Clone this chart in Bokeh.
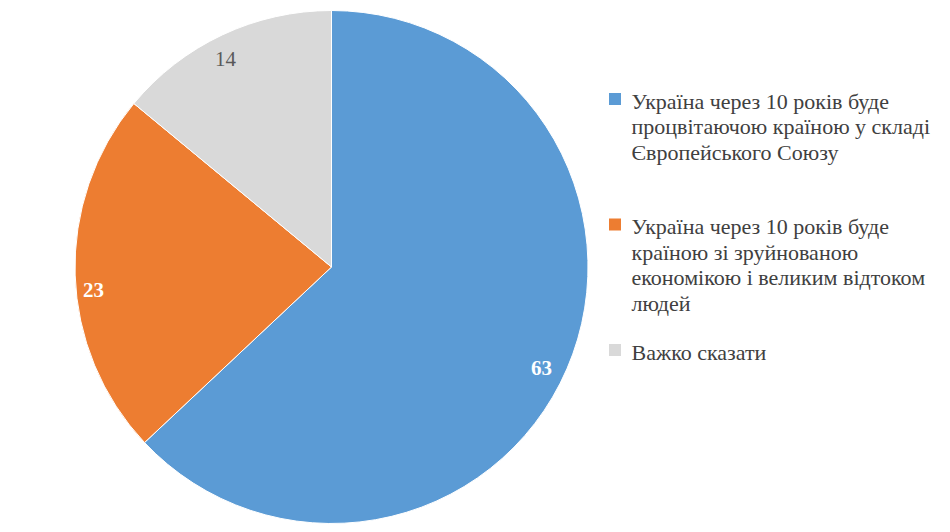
import math

from bokeh.plotting import figure
from bokeh.models import Range1d, ColumnDataSource
from bokeh.core.properties import value
from bokeh.embed import file_html
from bokeh.resources import INLINE

labels = [
    "Україна через 10 років буде\nпроцвітаючою країною у складі\nЄвропейського Союзу",
    "Україна через 10 років буде\nкраїною зі зруйнованою\nекономікою і великим відтоком\nлюдей",
    "Важко сказати",
]
values = [63, 23, 14]
colors = ["#5B9BD5", "#ED7D31", "#D9D9D9"]
label_colors = ["white", "white", "#595959"]
label_styles = ["bold", "bold", "normal"]

# label placement tweaks (angle nudge in radians, radius fraction)
label_nudge = [-0.04, 0.063, 0.031]
label_rad = [0.909, 0.932, 0.912]

W, H = 942, 524
FONT = "Liberation Serif"


def create_figure():
    p = figure(
        width=W,
        height=H,
        x_range=Range1d(0, W),
        y_range=Range1d(0, H),
        output_backend="svg",
        toolbar_location=None,
        tools="",
        min_border=0,
    )
    p.axis.visible = False
    p.grid.visible = False
    p.outline_line_color = None
    return p


def add_pie(p, cx, cy, r):
    total = float(sum(values))
    starts, ends, lx, ly = [], [], [], []
    cum = 0.0
    for i, v in enumerate(values):
        a0 = math.pi / 2 - 2 * math.pi * cum / total
        cum += v
        a1 = math.pi / 2 - 2 * math.pi * cum / total
        starts.append(a0)
        ends.append(a1)
        mid = (a0 + a1) / 2 + label_nudge[i]
        lx.append(cx + label_rad[i] * r * math.cos(mid))
        ly.append(cy + label_rad[i] * r * math.sin(mid))
    src = ColumnDataSource(dict(
        start=starts, end=ends, color=colors,
        lx=lx, ly=ly, txt=[str(v) for v in values],
        tcolor=label_colors, tstyle=label_styles,
    ))
    p.wedge(x=cx, y=cy, radius=r, start_angle="start", end_angle="end",
            direction="clock", fill_color="color", line_color="white",
            line_width=1, source=src)
    p.text(x="lx", y="ly", text="txt", text_color="tcolor",
           text_font_style="tstyle", text_font=value(FONT),
           text_font_size="21px", text_align="center",
           text_baseline="middle", source=src)


def add_legend(p, x0, y_top, slot, line_h):
    sx, sy, lx, ly, lt = [], [], [], [], []
    for i, lab in enumerate(labels):
        y = y_top - i * slot
        sx.append(x0)
        sy.append(y + 2)
        for j, line in enumerate(lab.split("\n")):
            lx.append(x0 + 16.5)
            ly.append(y - j * line_h)
            lt.append(line)
    p.rect(x=sx, y=sy, width=12, height=12, fill_color=colors, line_color=None)
    p.text(x=lx, y=ly, text=lt, text_color="#404040", text_font=value(FONT),
           text_font_size="22px", text_baseline="middle", text_align="left")


p = create_figure()
add_pie(p, 331, H - 266.5, 256.5)
add_legend(p, 614.5, H - 100.5, 125.5, 25.5)

open("out.html", "w").write(file_html(p, INLINE))
